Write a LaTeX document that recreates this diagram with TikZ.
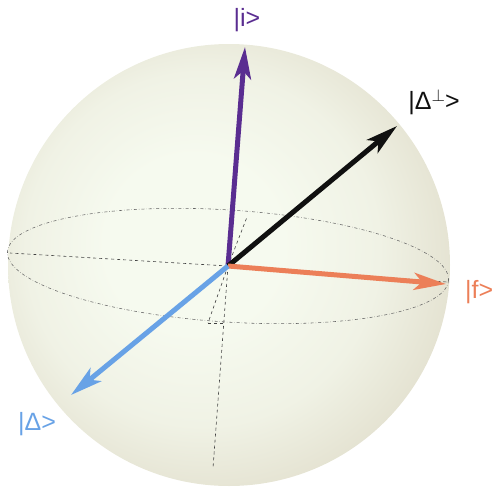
\documentclass[tikz,border=0pt]{standalone}
\usepackage{fontspec}
\setmainfont{Liberation Sans}
\usetikzlibrary{arrows.meta}

\definecolor{sphin}{HTML}{F6FAEF}
\definecolor{sphmid}{HTML}{F0F2E5}
\definecolor{sphout}{HTML}{E4E2D1}
\definecolor{ketpurple}{HTML}{5A2D91}
\definecolor{ketblack}{HTML}{101010}
\definecolor{ketorange}{HTML}{EC7F58}
\definecolor{ketblue}{HTML}{68A2E6}
\pgfdeclareradialshading{blochsphere}{\pgfpoint{-5bp}{3bp}}{%
  color(0bp)=(sphin); color(10bp)=(sphin); color(20bp)=(sphmid);
  color(28bp)=(sphout); color(50bp)=(sphout)}

\begin{document}
\begin{tikzpicture}[x=1pt, y=-1pt, >={Stealth[length=32pt, width=17pt, inset=8pt]},
  every node/.style={font=\fontsize{25}{28}\selectfont, inner sep=0pt},
  axis/.style={dashed, line width=0.6pt, black!75},
  vec/.style={->, line width=5pt}]
  \useasboundingbox (0,0) rectangle (493,491);

  % sphere and equator
  \shade[shading=blochsphere] (229,265) circle (221);
  \coordinate (O) at (228,266);
  \draw[dash dot, line width=0.55pt, black!60, rotate around={-3.7:(O)}] (O) ellipse (221 and 56);

  % hidden axes
  \coordinate (W) at (10,253);
  \coordinate (E) at (447,282);
  \coordinate (N) at (247,217);
  \coordinate (F) at (208,323);
  \coordinate (Fz) at (224,323);
  \coordinate (S) at (213,468);
  \foreach \p in {W,E,N,F,S}
    \draw[axis] (O) -- (\p);
  \draw[axis] (F) -- (Fz);

  % state vectors
  \coordinate (I) at (245,47);
  \coordinate (P) at (397,126);
  \coordinate (Fk) at (446,284);
  \coordinate (D) at (71,395);
  \draw[vec, ketpurple] (O) -- (I);
  \draw[vec, ketblack] (O) -- (P);
  \draw[vec, ketorange] (O) -- (Fk);
  \draw[vec, ketblue] (O) -- (D);

  % labels
  \node[ketpurple] (li) at (247,20) {|i>};
  \node[ketblack] (lp) at (434,102) {|Δ\raisebox{8pt}{\fontsize{18}{18}\selectfont$\perp$}>};
  \node[ketorange, anchor=west] (lf) at (465,292) {|f>};
  \node[ketblue] (ld) at (37,424) {|Δ>};
\end{tikzpicture}
\end{document}
